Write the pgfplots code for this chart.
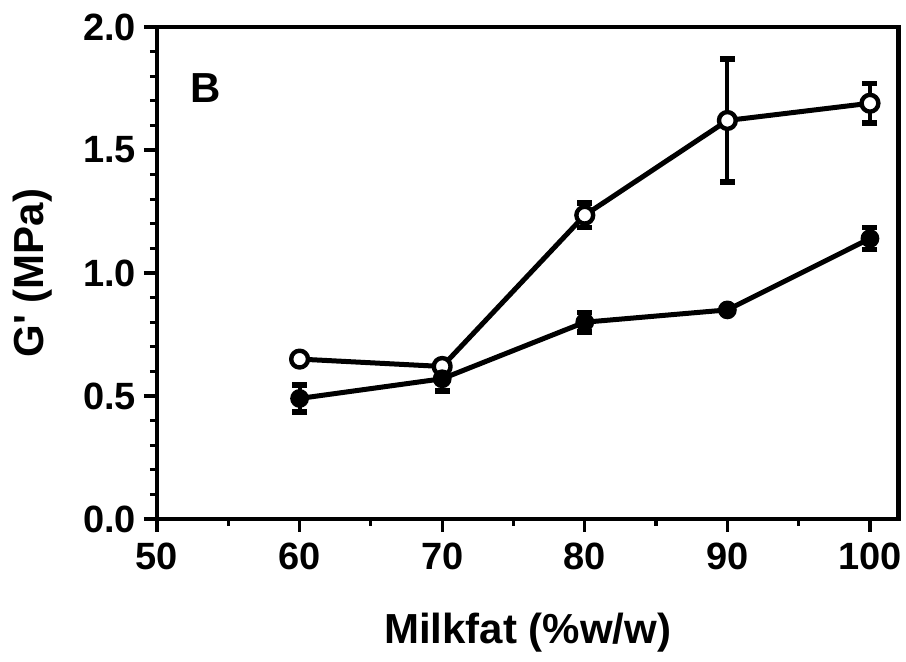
\documentclass[border=0pt]{standalone}
\usepackage{fontspec}
\setmainfont{Liberation Sans}
\usepackage{pgfplots}
\usepackage{pgfplotstable}
\pgfplotsset{compat=1.18}

% G' versus milkfat content, open and filled series with standard deviations
\pgfplotstableread{
x    y      e
60   0.650  0
70   0.620  0
80   1.235  0.050
90   1.620  0.250
100  1.690  0.080
}\opendata
\pgfplotstableread{
x    y      e
60   0.490  0.055
70   0.570  0.050
80   0.800  0.040
90   0.850  0
100  1.140  0.045
}\filleddata

\begin{document}
\begin{tikzpicture}
\useasboundingbox (-78.5pt,-71.5pt) rectangle (374.5pt,259.5pt);
\begin{axis}[
  scale only axis,
  width=370.75pt, height=246pt,
  xmin=50, xmax=102, ymin=0, ymax=2,
  xtick={50,60,70,80,90,100},
  minor xtick={55,65,75,85,95},
  ytick={0,0.5,1.0,1.5,2.0},
  minor ytick={0.1,0.2,0.3,0.4,0.6,0.7,0.8,0.9,1.1,1.2,1.3,1.4,1.6,1.7,1.8,1.9},
  tick pos=left,
  tick align=outside,
  major tick length=6.5pt,
  minor tick length=3.5pt,
  every tick/.style={line width=1.6pt, black},
  axis line style={line width=2.1pt},
  /pgf/number format/assume math mode=true,
  yticklabel style={/pgf/number format/fixed,
    /pgf/number format/fixed zerofill,
    /pgf/number format/precision=1, xshift=-0.5pt},
  ticklabel style={font=\fontsize{19}{19}\selectfont\bfseries},
  xticklabel style={yshift=-2pt},
  xlabel={Milkfat (\%w/w)},
  ylabel={G\textquotesingle\ (MPa)},
  label style={font=\fontsize{21}{21}\selectfont\bfseries},
  xlabel style={at={(axis description cs:0.5,-0.23)}, anchor=center},
  ylabel style={at={(axis description cs:-0.168,0.5)}, anchor=center},
  clip=false,
]
\addplot[black, line width=2.5pt, line join=round,
  mark=*, mark size=4.2pt, mark options={fill=white, line width=2.2pt},
  error bars/.cd, y dir=both, y explicit,
  error bar style={line width=2pt},
  error mark options={rotate=90, mark size=3.75pt, line width=2.8pt}]
  table[x=x, y=y, y error=e]{\opendata};
\addplot[black, line width=2.5pt, line join=round,
  mark=*, mark size=4.2pt, mark options={fill=black, line width=1pt},
  error bars/.cd, y dir=both, y explicit,
  error bar style={line width=2pt},
  error mark options={rotate=90, mark size=3.75pt, line width=2.8pt}]
  table[x=x, y=y, y error=e]{\filleddata};
\node[anchor=west, font=\fontsize{21}{21}\selectfont\bfseries]
  at (axis description cs:0.036,0.876) {B};
\end{axis}
\end{tikzpicture}
\end{document}
